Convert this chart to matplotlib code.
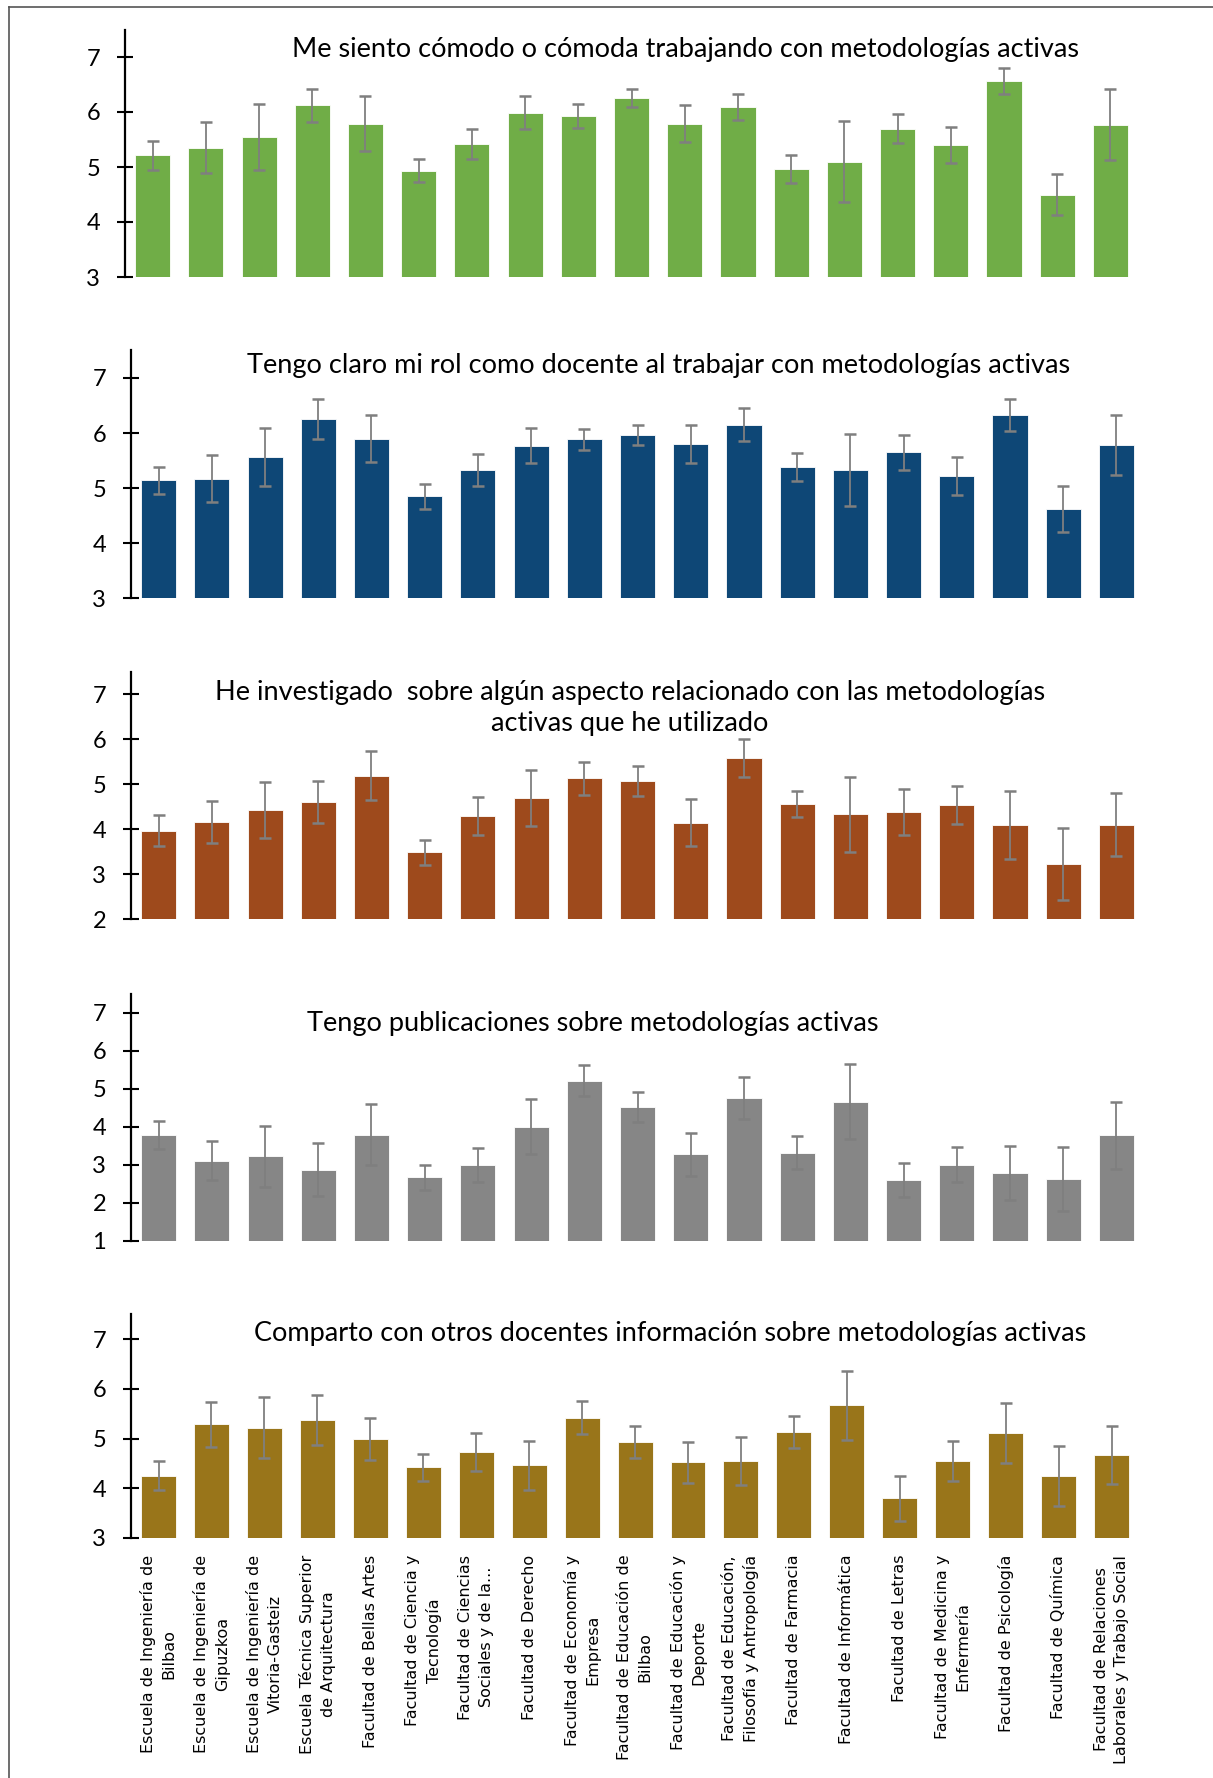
import matplotlib
matplotlib.use("Agg")
import matplotlib.pyplot as plt
from matplotlib.lines import Line2D
import numpy as np

plt.rcParams['font.family'] = ['Lato', 'DejaVu Sans']

# centros (etiquetas del eje x, solo en el último panel)
centros = [
    "Escuela de Ingeniería de\nBilbao",
    "Escuela de Ingeniería de\nGipuzkoa",
    "Escuela de Ingeniería de\nVitoria-Gasteiz",
    "Escuela Técnica Superior\nde Arquitectura",
    "Facultad de Bellas Artes",
    "Facultad de Ciencia y\nTecnología",
    "Facultad de Ciencias\nSociales y de la...",
    "Facultad de Derecho",
    "Facultad de Economía y\nEmpresa",
    "Facultad de Educación de\nBilbao",
    "Facultad de Educación y\nDeporte",
    "Facultad de Educación,\nFilosofía y Antropología",
    "Facultad de Farmacia",
    "Facultad de Informática",
    "Facultad de Letras",
    "Facultad de Medicina y\nEnfermería",
    "Facultad de Psicología",
    "Facultad de Química",
    "Facultad de Relaciones\nLaborales y Trabajo Social",
]

titulo_comodo = "Me siento cómodo o cómoda trabajando con metodologías activas"
comodo = [5.21, 5.35, 5.55, 6.12, 5.79, 4.93, 5.42, 5.99, 5.93, 6.25,
          5.79, 6.09, 4.96, 5.10, 5.70, 5.40, 6.56, 4.50, 5.77]
comodo_err = [0.27, 0.46, 0.60, 0.30, 0.50, 0.21, 0.28, 0.30, 0.22, 0.16,
              0.34, 0.23, 0.25, 0.74, 0.26, 0.33, 0.24, 0.38, 0.64]

titulo_rol = "Tengo claro mi rol como docente al trabajar con metodologías activas"
rol = [5.14, 5.17, 5.56, 6.25, 5.90, 4.85, 5.33, 5.77, 5.89, 5.96,
       5.80, 6.15, 5.38, 5.33, 5.65, 5.22, 6.33, 4.62, 5.78]
rol_err = [0.24, 0.43, 0.53, 0.36, 0.43, 0.22, 0.29, 0.32, 0.19, 0.18,
           0.35, 0.30, 0.25, 0.65, 0.32, 0.34, 0.29, 0.42, 0.55]

titulo_invest = ("He investigado  sobre algún aspecto relacionado con las metodologías\n"
                 "activas que he utilizado")
invest = [3.97, 4.16, 4.43, 4.61, 5.19, 3.49, 4.29, 4.69, 5.13, 5.07,
          4.15, 5.59, 4.56, 4.33, 4.39, 4.54, 4.10, 3.24, 4.10]
invest_err = [0.34, 0.46, 0.63, 0.46, 0.54, 0.28, 0.42, 0.62, 0.36, 0.33,
              0.53, 0.42, 0.29, 0.83, 0.51, 0.42, 0.76, 0.80, 0.70]

titulo_public = "Tengo publicaciones sobre metodologías activas"
public = [3.78, 3.11, 3.22, 2.87, 3.79, 2.67, 3.00, 4.00, 5.21, 4.52,
          3.27, 4.75, 3.32, 4.66, 2.60, 3.00, 2.78, 2.62, 3.77]
public_err = [0.36, 0.52, 0.80, 0.70, 0.81, 0.33, 0.45, 0.73, 0.41, 0.40,
              0.56, 0.55, 0.43, 0.98, 0.45, 0.46, 0.71, 0.85, 0.87]

titulo_comparto = "Comparto con otros docentes información sobre metodologías activas"
comparto = [4.25, 5.29, 5.22, 5.38, 4.99, 4.42, 4.73, 4.46, 5.42, 4.93,
            4.52, 4.55, 5.13, 5.67, 3.80, 4.55, 5.11, 4.25, 4.67]
comparto_err = [0.29, 0.45, 0.62, 0.50, 0.43, 0.28, 0.38, 0.49, 0.33, 0.33,
                0.41, 0.49, 0.32, 0.70, 0.45, 0.40, 0.61, 0.60, 0.58]

W, H = 1213, 1778
fig = plt.figure(figsize=(W / 100, H / 100), dpi=100)

# (valores, errores, color, ymin, caja en px [izq, der, arriba, abajo], título, pos. título px)
paneles = [
    (comodo, comodo_err, '#70AD47', 3, (125, 1137, 29.5, 277), titulo_comodo, (686, 50)),
    (rol, rol_err, '#0E4776', 3, (131, 1143, 350.4, 598.3), titulo_rol, (659, 365)),
    (invest, invest_err, '#9E4A1C', 2, (131, 1143, 671.8, 919.3), titulo_invest, (630, 708)),
    (public, public_err, '#868686', 1, (131, 1143, 993.7, 1240.7), titulo_public, (593, 1024)),
    (comparto, comparto_err, '#99751A', 3, (131, 1138, 1314.4, 1538), titulo_comparto, (670, 1333)),
]

x = np.arange(len(centros))
for i, (vals, errs, color, ymin, caja, titulo, tpos) in enumerate(paneles):
    izq, der, arr, aba = caja
    ax = fig.add_axes([izq / W, 1 - aba / H, (der - izq) / W, (aba - arr) / H])
    ax.bar(x, np.array(vals) - ymin, bottom=ymin, width=0.66, color=color,
           edgecolor='white', linewidth=0.6)
    ax.errorbar(x, vals, yerr=errs, fmt='none', ecolor='#7F7F7F',
                elinewidth=1.3, capsize=4.5, capthick=1.8)
    ax.set_xlim(-0.52, 18.5)
    ax.set_ylim(ymin, 7.5)
    ax.set_yticks(range(ymin, 8))
    for s in ['top', 'right', 'bottom']:
        ax.spines[s].set_visible(False)
    ax.spines['left'].set_linewidth(1.6)
    ax.tick_params(axis='y', direction='inout', length=12, width=1.5,
                   labelsize=17, pad=12)
    if i == len(paneles) - 1:
        ax.set_xticks(x)
        etiquetas = ax.set_xticklabels(centros, rotation=90, ha='center', va='top',
                                       multialignment='center', fontsize=11.5,
                                       family='DejaVu Sans')
        for t in etiquetas:
            t.set_linespacing(1.45)
        ax.tick_params(axis='x', length=0, pad=12)
    else:
        ax.set_xticks([])
    fig.text(tpos[0] / W, 1 - tpos[1] / H, titulo, ha='center', va='center',
             fontsize=19.5, linespacing=1.3)

# marco exterior
fig.add_artist(Line2D([9 / W, 9 / W], [0, 1 - 7 / H], color='#555555', lw=1.2))
fig.add_artist(Line2D([9 / W, 1], [1 - 7 / H, 1 - 7 / H], color='#555555', lw=1.2))

fig.savefig('out.png', dpi=100)
